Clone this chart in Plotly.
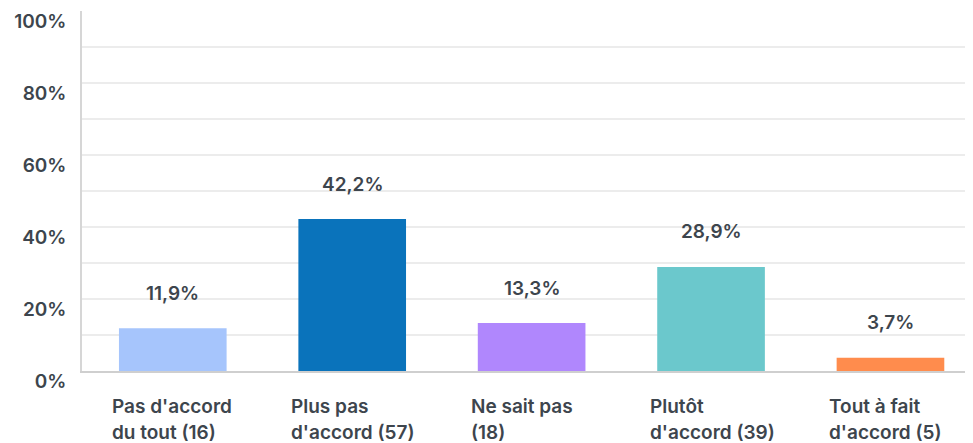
import plotly.graph_objects as go

categories = ["Pas d'accord<br>du tout (16)", "Plus pas<br>d'accord (57)", "Ne sait pas<br>(18)",
              "Plutôt<br>d'accord (39)", "Tout à fait<br>d'accord (5)"]
values = [11.9, 42.2, 13.3, 28.9, 3.7]
colors = ["#a6c5fc", "#0a73bb", "#b087fd", "#6bc8cc", "#ff8c4d"]
ytick_vals = [0, 20, 40, 60, 80, 100]
ytick_text = ["0%", "20%", "40%", "60%", "80%", "100%"]
grid_vals = [10, 20, 30, 40, 50, 60, 70, 80, 90]

FONT = "Inter"
TXT = "#3d454d"
FS = 19

xs = list(range(len(categories)))
fig = go.Figure()
fig.add_trace(go.Bar(x=xs, y=values, marker=dict(color=colors, line=dict(width=0)),
                     hoverinfo="skip", showlegend=False))

for i, (c, v) in enumerate(zip(categories, values)):
    fig.add_annotation(x=i, y=v, xref="x", yref="y", text=f"{v:.1f}%".replace(".", ","),
                       showarrow=False, yshift=35, yanchor="middle",
                       font=dict(family=FONT, size=FS, color=TXT, weight=600))
    for k, line in enumerate(c.split("<br>")):
        fig.add_annotation(x=i, y=0, xref="x", yref="y", text=line, showarrow=False,
                           xanchor="left", yanchor="middle", align="left", xshift=-63,
                           yshift=-35 - 26 * k,
                           font=dict(family=FONT, size=FS, color=TXT, weight=600))

fig.update_layout(
    width=973, height=443,
    margin=dict(l=74, r=8, t=3, b=80),
    paper_bgcolor="white", plot_bgcolor="white",
    bargap=0.4,
    xaxis=dict(range=[-0.506, 4.46], showticklabels=False, showgrid=False, zeroline=False,
               showline=True, linecolor="#cfcfcf", linewidth=1.5, fixedrange=True),
    yaxis=dict(range=[0, 100], tickvals=ytick_vals, ticktext=ytick_text, showgrid=False,
               zeroline=False, showline=True, linecolor="#d6d6d6", linewidth=1.5,
               ticks="", ticklabelstandoff=10, ticklabelshift=10,
               tickfont=dict(family=FONT, size=FS, color=TXT, weight=600),
               minor=dict(tickvals=grid_vals, showgrid=True, gridcolor="#ececec", gridwidth=1.5)),
)

fig.write_html("out.html")
